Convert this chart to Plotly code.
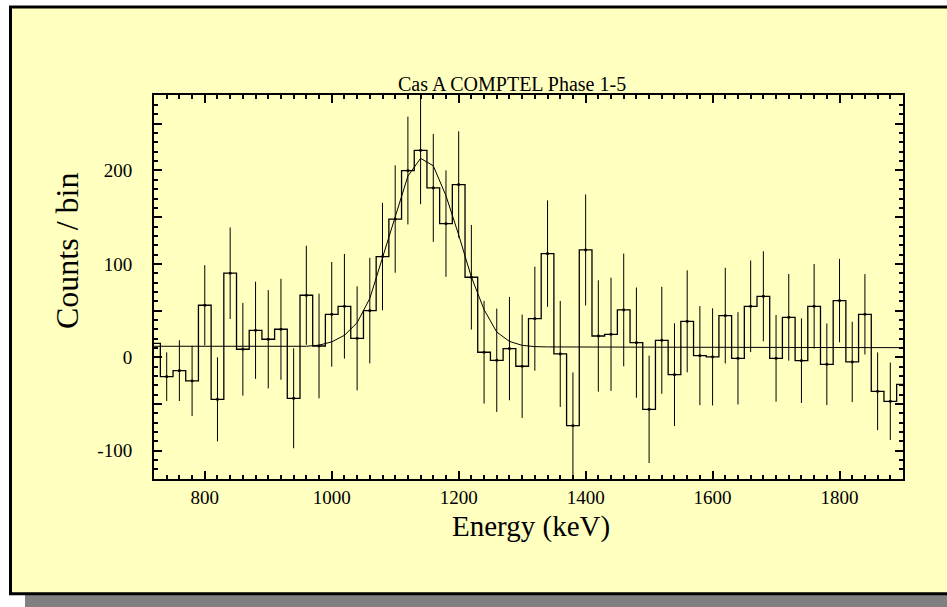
import plotly.graph_objects as go

# ---------------- data ----------------
bin_centers = [720, 740, 760, 780, 800, 820, 840, 860, 880, 900, 920, 940, 960, 980,
               1000, 1020, 1040, 1060, 1080, 1100, 1120, 1140, 1160, 1180, 1200, 1220,
               1240, 1260, 1280, 1300, 1320, 1340, 1360, 1380, 1400, 1420, 1440, 1460,
               1480, 1500, 1520, 1540, 1560, 1580, 1600, 1620, 1640, 1660, 1680, 1700,
               1720, 1740, 1760, 1780, 1800, 1820, 1840, 1860, 1880, 1900]

counts = [15, -20.7, -14.3, -25.3, 55.7, -45, 90, 8.6, 28.9, 19.3, 30, -43.9, 66.4, 12.1,
          46, 54.6, 20.3, 50, 107.8, 148, 199.9, 221.6, 181.3, 143.1, 184.9, 85.7,
          5.4, -3.2, 9.3, -9.6, 41.4, 111, 3.6, -73.2, 114.9, 22.8, 24.6, 50.7,
          15.7, -55.7, 18.2, -18.6, 38.5, 1.8, 0.4, 44.6, -1.1, 54.6, 65.3, -1.1,
          42.8, -3.6, 54.6, -7.5, 60.7, -5, 46, -36.4, -47.1, -28.9]

# error bars for the full bins 740 ... 1880
err_centers = bin_centers[1:-1]
err_values = [26, 32.5, 37.6, 43, 45, 49, 49.6, 52, 52.6, 54, 53.5, 53, 56,
              56, 56, 55.7, 56.5, 57.5, 57.5, 57.7, 57.7, 57.7, 57, 57, 56,
              55, 55.3, 55.3, 55.3, 55.7, 57, 56.7, 57, 59.4, 59.6, 60.6, 60.3,
              59, 57.5, 57.3, 55, 54.6, 53, 52, 51.2, 49.4, 49, 48.2, 46.4,
              46.4, 45.3, 45.3, 43.7, 44.6, 43, 43, 41.6, 41.5]
err_counts = counts[1:-1]

# fitted line + gaussian model, values read at the bin centres
fit_values = [11.8, 11.8, 11.8, 11.7, 11.7, 11.7, 11.7, 11.6, 11.6, 11.6, 11.6, 11.6, 11.8, 13.0,
              16.5, 23.5, 37, 63, 107, 152, 194, 213, 205, 173, 131, 86,
              51, 27, 17, 12.8, 11.4, 11.1, 11.0, 11.0, 11.0, 10.9, 10.9, 10.9, 10.9,
              10.8, 10.8, 10.8, 10.8, 10.7, 10.7, 10.7, 10.7, 10.6, 10.6, 10.6, 10.6,
              10.5, 10.5, 10.5, 10.5, 10.4, 10.4, 10.4, 10.4, 10.3]

x_tick_vals = [800, 1000, 1200, 1400, 1600, 1800]
y_tick_vals = [-100, -50, 0, 50, 100, 150, 200, 250]
y_tick_text = ["-100", "", "0", "", "100", "", "200", ""]

title_text = "Cas A COMPTEL Phase 1-5"
x_title = "Energy (keV)"
y_title = "Counts / bin"

# ---------------- layout geometry (pixels) ----------------
W, H = 947, 607
L, R, T, B = 154, 903, 95, 479
SERIF = "Liberation Serif, Times New Roman, serif"


def px(x):
    return (x - L) / (R - L)


def py(y):
    return (B - y) / (B - T)


fig = go.Figure()

fig.add_trace(go.Scatter(
    x=bin_centers, y=counts, mode="lines", line=dict(shape="hvh", color="black", width=1.3),
    hoverinfo="skip", showlegend=False))

fig.add_trace(go.Scatter(
    x=err_centers, y=err_counts, mode="markers",
    marker=dict(color="black", size=2.5, symbol="square"),
    error_y=dict(type="data", array=err_values, visible=True, color="black", thickness=1, width=0),
    showlegend=False))

fig.add_trace(go.Scatter(
    x=bin_centers, y=fit_values, mode="lines", line=dict(color="black", width=1),
    showlegend=False))

shapes = [
    # grey drop shadow
    dict(type="rect", xref="paper", yref="paper", layer="below",
         x0=px(25), x1=px(980), y0=py(640), y1=py(20),
         fillcolor="#808080", line=dict(width=0)),
    # yellow panel with black frame
    dict(type="rect", xref="paper", yref="paper", layer="below",
         x0=px(10.5), x1=px(990), y0=py(593.8), y1=py(7),
         fillcolor="#FFFFC0", line=dict(color="black", width=3)),
]

annotations = [
    dict(text=title_text, xref="paper", yref="paper", x=px(512), y=py(92),
         xanchor="center", yanchor="bottom", showarrow=False, yshift=-5,
         font=dict(family=SERIF, size=20, color="black")),
    dict(text=x_title, xref="paper", yref="paper", x=px(531), y=py(526),
         xanchor="center", yanchor="middle", showarrow=False,
         font=dict(family=SERIF, size=29, color="black")),
    dict(text=y_title, xref="paper", yref="paper", x=px(67), y=py(251),
         xanchor="center", yanchor="middle", showarrow=False, textangle=-90,
         font=dict(family=SERIF, size=32, color="black")),
]

axis_common = dict(
    showline=True, linecolor="black", linewidth=2, mirror="allticks",
    ticks="inside", tickcolor="black", tickwidth=1.5, ticklen=8,
    showgrid=False, zeroline=False,
    tickfont=dict(family=SERIF, size=19, color="black"),
)

fig.update_layout(
    width=W, height=H,
    margin=dict(l=L, r=W - R, t=T, b=H - B, pad=0),
    paper_bgcolor="white", plot_bgcolor="rgba(0,0,0,0)",
    shapes=shapes, annotations=annotations, showlegend=False,
    xaxis=dict(range=[720, 1900], tickvals=x_tick_vals, ticklabelstandoff=0,
               minor=dict(dtick=20, tick0=0, ticks="inside", ticklen=4, tickcolor="black", tickwidth=1.5),
               **axis_common),
    yaxis=dict(range=[-130.3, 280.8], tickvals=y_tick_vals, ticktext=y_tick_text,
               ticklabelstandoff=16,
               minor=dict(dtick=10, tick0=0, ticks="inside", ticklen=4, tickcolor="black", tickwidth=1.5),
               **axis_common),
)

fig.write_html("out.html")
